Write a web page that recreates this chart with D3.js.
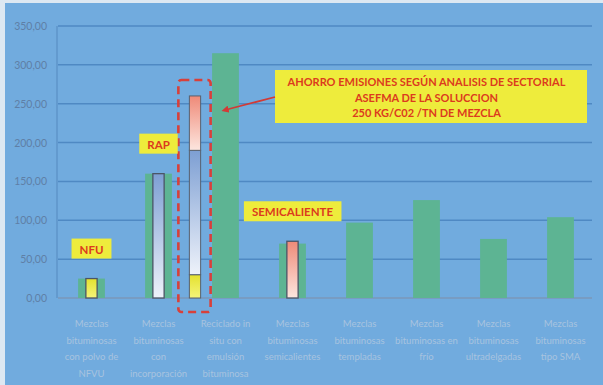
<!DOCTYPE html>
<html>
<head>
<meta charset="utf-8">
<script src="https://cdn.jsdelivr.net/npm/d3@7"></script>
<style>
  body { margin: 0; background: #dde8f2; }
  svg { display: block; }
</style>
</head>
<body>
<script>
// categories (x labels, one array of lines per bar)
let categories = [
  ["Mezclas", "bituminosas", "con polvo de", "NFVU"],
  ["Mezclas", "bituminosas", "con", "incorporación"],
  ["Reciclado in", "situ con", "emulsión", "bituminosa"],
  ["Mezclas", "bituminosas", "semicalientes"],
  ["Mezclas", "bituminosas", "templadas"],
  ["Mezclas", "bituminosas en", "frío"],
  ["Mezclas", "bituminosas", "ultradelgadas"],
  ["Mezclas", "bituminosas", "tipo SMA"]
]
let emissions = [25, 160, 315, 70, 97, 126, 76, 104]
let yTicks = [0, 50, 100, 150, 200, 250, 300, 350]

// inner bars: category index, value, kind
let insetCat = [0, 1, 3]
let insetValue = [25, 160, 73]
let insetKind = ["nfu", "rap", "semi"]

// stacked bar next to the "Reciclado" column
let stackKind = ["nfu", "rap", "semi"]
let stackFrom = [0, 30, 190]
let stackTo = [30, 190, 260]

let tags = [
  {cat: 0, value: 25, text: "NFU"},
  {cat: 1, value: 160, text: "RAP"},
  {cat: 3, value: 73, text: "SEMICALIENTE"}
]
let noteLines = ["AHORRO EMISIONES SEGÚN ANALISIS DE SECTORIAL", "ASEFMA DE LA SOLUCCION", "250 KG/C02 /TN DE MEZCLA"]

let width = 603
let height = 385

let svg = d3.select("body").append("svg")
    .attr("width", width)
    .attr("height", height)

let defs = svg.append("defs")
let grads = {nfu: ["#e4e12e", "#f4f47a"], rap: ["#7d9fd3", "#eef2fa"], semi: ["#ef8a78", "#fde6df"]}
Object.keys(grads).forEach(k => {
  let g = defs.append("linearGradient").attr("id", "g-" + k)
      .attr("x1", 0).attr("y1", 0).attr("x2", 0).attr("y2", 1)
  g.append("stop").attr("offset", "0%").attr("stop-color", grads[k][0])
  g.append("stop").attr("offset", "100%").attr("stop-color", grads[k][1])
})

// slide background
svg.append("rect")
    .attr("x", 5).attr("y", 3)
    .attr("width", width - 5).attr("height", height - 3)
    .attr("fill", "#71abde")

let x = d3.scaleBand()
    .domain(d3.range(categories.length))
    .range([58, 594])
    .paddingInner(0.6)
    .paddingOuter(0.3)

let y = d3.scaleLinear()
    .domain([0, 350])
    .range([298, 26])

// grid
svg.append("g").selectAll("line")
    .data(yTicks)
    .enter().append("line")
    .attr("x1", 58).attr("x2", 592)
    .attr("y1", d => y(d)).attr("y2", d => y(d))
    .attr("stroke", d => d == 0 ? "#7b97b8" : "#4f89c3")
    .attr("stroke-width", 1.5)

svg.append("line")
    .attr("x1", 57).attr("x2", 57)
    .attr("y1", y(350)).attr("y2", y(0))
    .attr("stroke", "#5a8fc4").attr("stroke-width", 1.2)

svg.append("g").selectAll("text")
    .data(yTicks)
    .enter().append("text")
    .attr("x", 47)
    .attr("y", d => y(d) + 4)
    .attr("text-anchor", "end")
    .attr("font-family", "Lato, sans-serif")
    .attr("font-size", 10.5)
    .attr("fill", "#5f7fa6")
    .text(d => d3.format(".2f")(d).replace(".", ","))

// green bars
svg.append("g").selectAll("rect")
    .data(emissions)
    .enter().append("rect")
    .attr("x", (d, i) => x(i))
    .attr("y", d => y(d))
    .attr("width", x.bandwidth())
    .attr("height", d => y(0) - y(d))
    .attr("fill", "#5db493")

// inner bars
let inW = x.bandwidth() * 0.42
svg.append("g").selectAll("rect")
    .data(insetValue)
    .enter().append("rect")
    .attr("x", (d, i) => x(insetCat[i]) + x.bandwidth() / 2 - inW / 2)
    .attr("y", d => y(d))
    .attr("width", inW)
    .attr("height", d => y(0) - y(d))
    .attr("fill", (d, i) => "url(#g-" + insetKind[i] + ")")
    .attr("stroke", "#4b5566")
    .attr("stroke-width", 1.3)

// stacked bar between RAP and Reciclado columns
let stackCx = (x(1) + x(2)) / 2 + x.bandwidth() / 2 + 3
svg.append("g").selectAll("rect")
    .data(stackTo)
    .enter().append("rect")
    .attr("x", stackCx - inW / 2)
    .attr("y", d => y(d))
    .attr("width", inW)
    .attr("height", (d, i) => y(stackFrom[i]) - y(d))
    .attr("fill", (d, i) => "url(#g-" + stackKind[i] + ")")
    .attr("stroke", "#56606f")
    .attr("stroke-width", 1)

// dashed frame
svg.append("rect")
    .attr("x", stackCx - inW / 2 - 11)
    .attr("y", y(d3.max(stackTo)) - 16)
    .attr("width", inW + 21)
    .attr("height", y(0) + 14 - (y(d3.max(stackTo)) - 16))
    .attr("rx", 3)
    .attr("fill", "none")
    .attr("stroke", "#d8403a")
    .attr("stroke-width", 2.6)
    .attr("stroke-dasharray", "8,5")

// tag boxes
let tagG = svg.append("g").selectAll("g")
    .data(tags)
    .enter().append("g")
tagG.append("text")
    .attr("x", d => x(d.cat) + x.bandwidth() / 2)
    .attr("y", d => y(d.value) - 25)
    .attr("text-anchor", "middle")
    .attr("font-family", "Lato, sans-serif")
    .attr("font-weight", "bold")
    .attr("font-size", 11.5)
    .attr("fill", "#dc3b1e")
    .text(d => d.text)
tagG.each(function() {
  let t = d3.select(this).select("text")
  let b = t.node().getBBox()
  d3.select(this).insert("rect", "text")
      .attr("x", b.x - 8).attr("y", b.y - 4)
      .attr("width", b.width + 16).attr("height", b.height + 7)
      .attr("fill", "#eeec3c")
})

// note box
let noteX = x(5) + x.bandwidth() / 2
let note = svg.append("g")
note.append("rect")
    .attr("x", 275).attr("y", 70)
    .attr("width", 312).attr("height", 53)
    .attr("fill", "#eeec3c")
note.selectAll("text")
    .data(noteLines)
    .enter().append("text")
    .attr("x", noteX)
    .attr("y", (d, i) => 86 + i * 15.5)
    .attr("text-anchor", "middle")
    .attr("font-family", "Lato, sans-serif")
    .attr("font-weight", "bold")
    .attr("font-size", 11)
    .attr("fill", "#dc3b1e")
    .text(d => d)

// arrow
defs.append("marker")
    .attr("id", "head")
    .attr("viewBox", "0 0 10 10")
    .attr("refX", 5).attr("refY", 5)
    .attr("markerWidth", 4).attr("markerHeight", 4)
    .attr("orient", "auto")
    .append("path").attr("d", "M0,0L10,5L0,10z").attr("fill", "#d23a36")
svg.append("line")
    .attr("x1", 275).attr("y1", 97)
    .attr("x2", 225).attr("y2", 110)
    .attr("stroke", "#d23a36")
    .attr("stroke-width", 1.8)
    .attr("marker-end", "url(#head)")

// x labels
let xl = svg.append("g").selectAll("text")
    .data(categories)
    .enter().append("text")
    .attr("text-anchor", "middle")
    .attr("font-family", "Lato, sans-serif")
    .attr("font-size", 9.5)
    .attr("fill", "#a8c3df")
xl.selectAll("tspan")
    .data((d, i) => d.map(s => ({s: s, i: i})))
    .enter().append("tspan")
    .attr("x", d => x(d.i) + x.bandwidth() / 2)
    .attr("y", (d, j) => 327 + j * 16.5)
    .text(d => d.s)
</script>
</body>
</html>
